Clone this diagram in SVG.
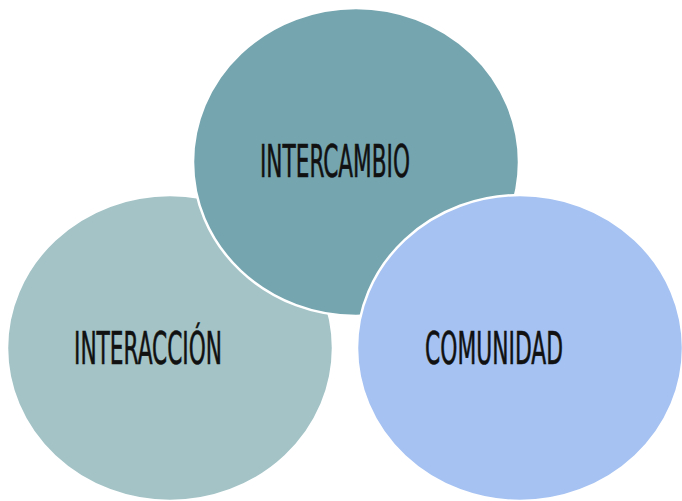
<svg xmlns="http://www.w3.org/2000/svg" width="682" height="501" viewBox="0 0 682 501">
<style>
.c{stroke:#ffffff;stroke-width:2.5}
.t{font-family:"DejaVu Sans Condensed","DejaVu Sans",sans-serif;font-size:44px;fill:#111111;stroke:#111111;stroke-width:0.6}
</style>
<rect width="682" height="501" fill="#ffffff"/>
<g id="interaccion">
<ellipse class="c" cx="170" cy="348" rx="163" ry="153" fill="#A3C3C6"/>
<text class="t" x="74" y="364" textLength="148" lengthAdjust="spacingAndGlyphs">INTERACCIÓN</text>
</g>
<g id="intercambio">
<ellipse class="c" cx="356" cy="162" rx="163" ry="154" fill="#75A5AF"/>
<text class="t" x="260" y="177" textLength="150" lengthAdjust="spacingAndGlyphs">INTERCAMBIO</text>
</g>
<g id="comunidad">
<ellipse class="c" cx="520" cy="348" rx="163" ry="153" fill="#A5C2F2"/>
<text class="t" x="425" y="364" textLength="138" lengthAdjust="spacingAndGlyphs">COMUNIDAD</text>
</g>
<g id="connectors"/>
</svg>
